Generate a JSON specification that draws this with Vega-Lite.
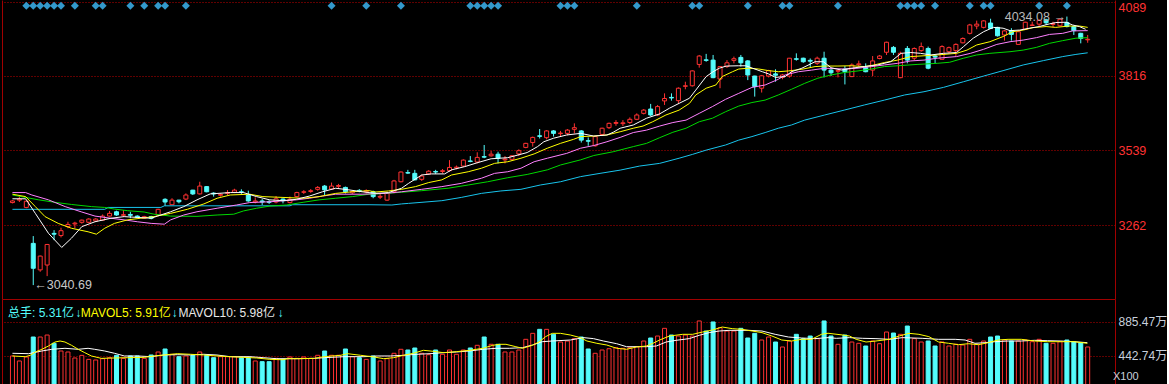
{
"$schema":"https://vega.github.io/schema/vega-lite/v6.json",
"background":"#000000",
"padding":{"left":2,"top":0,"right":0,"bottom":0},
"spacing":0,
"bounds":"flush",
"config":{"view":{"stroke":null},"font":"Liberation Sans, Noto Sans CJK SC, sans-serif",
"axisX":{"labels":false,"ticks":false,"grid":false,"domain":true,"domainColor":"#a00000","domainWidth":1,"title":null}},
"resolve":{"scale":{"stroke":"independent","color":"independent"}},
"datasets":{
"k":[
{"i":0,"o":3346,"h":3355,"l":3343,"c":3352,"v":439},
{"i":1,"o":3355,"h":3369,"l":3348,"c":3359,"v":374},
{"i":2,"o":3328,"h":3353,"l":3325,"c":3351,"v":426},
{"i":3,"o":3195,"h":3222,"l":3040.69,"c":3103,"v":686},
{"i":4,"o":3097,"h":3150,"l":3090,"c":3148,"v":686},
{"i":5,"o":3115,"h":3193,"l":3074,"c":3191,"v":712},
{"i":6,"o":3232,"h":3244,"l":3207,"c":3229,"v":604},
{"i":7,"o":3224,"h":3253,"l":3217,"c":3242,"v":504},
{"i":8,"o":3257,"h":3275,"l":3251,"c":3265,"v":491},
{"i":9,"o":3267,"h":3275,"l":3251,"c":3270,"v":413},
{"i":10,"o":3273,"h":3283,"l":3268,"c":3281,"v":447},
{"i":11,"o":3273,"h":3288,"l":3270,"c":3285,"v":395},
{"i":12,"o":3278,"h":3288,"l":3275,"c":3285,"v":387},
{"i":13,"o":3281,"h":3302,"l":3279,"c":3296,"v":404},
{"i":14,"o":3296,"h":3315,"l":3294,"c":3306,"v":417},
{"i":15,"o":3312,"h":3316,"l":3297,"c":3300,"v":447},
{"i":16,"o":3299,"h":3318,"l":3294,"c":3301,"v":408},
{"i":17,"o":3302,"h":3312,"l":3288,"c":3299,"v":439},
{"i":18,"o":3296,"h":3299,"l":3290,"c":3292,"v":439},
{"i":19,"o":3288,"h":3297,"l":3286,"c":3294,"v":408},
{"i":20,"o":3294,"h":3297,"l":3284,"c":3288,"v":452},
{"i":21,"o":3300,"h":3323,"l":3298,"c":3321,"v":491},
{"i":22,"o":3358,"h":3362,"l":3333,"c":3348,"v":530},
{"i":23,"o":3338,"h":3362,"l":3337,"c":3355,"v":460},
{"i":24,"o":3355,"h":3356,"l":3343,"c":3349,"v":430},
{"i":25,"o":3359,"h":3380,"l":3355,"c":3374,"v":439},
{"i":26,"o":3392,"h":3393,"l":3374,"c":3378,"v":447},
{"i":27,"o":3378,"h":3423,"l":3376,"c":3407,"v":491},
{"i":28,"o":3405,"h":3407,"l":3384,"c":3386,"v":447},
{"i":29,"o":3381,"h":3384,"l":3368,"c":3378,"v":417},
{"i":30,"o":3373,"h":3380,"l":3368,"c":3376,"v":430},
{"i":31,"o":3380,"h":3392,"l":3374,"c":3383,"v":430},
{"i":32,"o":3384,"h":3397,"l":3381,"c":3392,"v":430},
{"i":33,"o":3386,"h":3395,"l":3378,"c":3384,"v":417},
{"i":34,"o":3374,"h":3390,"l":3349,"c":3352,"v":417},
{"i":35,"o":3348,"h":3365,"l":3343,"c":3352,"v":374},
{"i":36,"o":3352,"h":3359,"l":3337,"c":3348,"v":365},
{"i":37,"o":3349,"h":3355,"l":3341,"c":3347,"v":365},
{"i":38,"o":3348,"h":3370,"l":3343,"c":3360,"v":408},
{"i":39,"o":3359,"h":3361,"l":3343,"c":3353,"v":395},
{"i":40,"o":3346,"h":3368,"l":3343,"c":3358,"v":426},
{"i":41,"o":3368,"h":3386,"l":3365,"c":3383,"v":408},
{"i":42,"o":3384,"h":3392,"l":3378,"c":3386,"v":426},
{"i":43,"o":3387,"h":3396,"l":3382,"c":3390,"v":408},
{"i":44,"o":3395,"h":3407,"l":3390,"c":3402,"v":448},
{"i":45,"o":3407,"h":3411,"l":3374,"c":3393,"v":504},
{"i":46,"o":3396,"h":3420,"l":3393,"c":3407,"v":448},
{"i":47,"o":3406,"h":3415,"l":3397,"c":3409,"v":448},
{"i":48,"o":3402,"h":3405,"l":3380,"c":3386,"v":530},
{"i":49,"o":3382,"h":3390,"l":3378,"c":3387,"v":430},
{"i":50,"o":3391,"h":3396,"l":3384,"c":3388,"v":417},
{"i":51,"o":3386,"h":3395,"l":3380,"c":3390,"v":395},
{"i":52,"o":3386,"h":3390,"l":3362,"c":3368,"v":439},
{"i":53,"o":3366,"h":3380,"l":3359,"c":3369,"v":374},
{"i":54,"o":3355,"h":3386,"l":3352,"c":3380,"v":404},
{"i":55,"o":3386,"h":3430,"l":3380,"c":3426,"v":474},
{"i":56,"o":3423,"h":3461,"l":3421,"c":3459,"v":526},
{"i":57,"o":3457,"h":3467,"l":3452,"c":3455,"v":517},
{"i":58,"o":3454,"h":3467,"l":3428,"c":3430,"v":543},
{"i":59,"o":3432,"h":3450,"l":3426,"c":3444,"v":474},
{"i":60,"o":3452,"h":3466,"l":3449,"c":3462,"v":456},
{"i":61,"o":3461,"h":3467,"l":3452,"c":3459,"v":517},
{"i":62,"o":3461,"h":3470,"l":3454,"c":3464,"v":461},
{"i":63,"o":3464,"h":3503,"l":3460,"c":3476,"v":517},
{"i":64,"o":3474,"h":3483,"l":3469,"c":3477,"v":461},
{"i":65,"o":3481,"h":3506,"l":3479,"c":3503,"v":517},
{"i":66,"o":3500,"h":3518,"l":3495,"c":3498,"v":543},
{"i":67,"o":3496,"h":3532,"l":3491,"c":3513,"v":578},
{"i":68,"o":3516,"h":3559,"l":3510,"c":3514,"v":686},
{"i":69,"o":3519,"h":3537,"l":3516,"c":3525,"v":591},
{"i":70,"o":3525,"h":3534,"l":3491,"c":3510,"v":591},
{"i":71,"o":3504,"h":3518,"l":3491,"c":3507,"v":491},
{"i":72,"o":3506,"h":3522,"l":3501,"c":3519,"v":491},
{"i":73,"o":3526,"h":3543,"l":3518,"c":3538,"v":517},
{"i":74,"o":3550,"h":3567,"l":3547,"c":3565,"v":656},
{"i":75,"o":3568,"h":3590,"l":3553,"c":3587,"v":734},
{"i":76,"o":3593,"h":3618,"l":3583,"c":3591,"v":786},
{"i":77,"o":3586,"h":3614,"l":3580,"c":3611,"v":786},
{"i":78,"o":3611,"h":3614,"l":3590,"c":3602,"v":721},
{"i":79,"o":3601,"h":3611,"l":3590,"c":3603,"v":621},
{"i":80,"o":3602,"h":3618,"l":3595,"c":3614,"v":634},
{"i":81,"o":3617,"h":3639,"l":3602,"c":3623,"v":665},
{"i":82,"o":3611,"h":3614,"l":3568,"c":3577,"v":686},
{"i":83,"o":3575,"h":3587,"l":3556,"c":3573,"v":530},
{"i":84,"o":3556,"h":3592,"l":3553,"c":3590,"v":474},
{"i":85,"o":3598,"h":3623,"l":3593,"c":3621,"v":517},
{"i":86,"o":3623,"h":3642,"l":3618,"c":3639,"v":534},
{"i":87,"o":3639,"h":3651,"l":3630,"c":3642,"v":547},
{"i":88,"o":3638,"h":3651,"l":3629,"c":3641,"v":539},
{"i":89,"o":3642,"h":3661,"l":3637,"c":3654,"v":547},
{"i":90,"o":3654,"h":3676,"l":3651,"c":3670,"v":560},
{"i":91,"o":3676,"h":3692,"l":3672,"c":3688,"v":634},
{"i":92,"o":3692,"h":3711,"l":3666,"c":3670,"v":673},
{"i":93,"o":3670,"h":3707,"l":3666,"c":3701,"v":699},
{"i":94,"o":3722,"h":3750,"l":3707,"c":3731,"v":799},
{"i":95,"o":3735,"h":3750,"l":3723,"c":3733,"v":712},
{"i":96,"o":3723,"h":3772,"l":3713,"c":3769,"v":699},
{"i":97,"o":3776,"h":3793,"l":3765,"c":3778,"v":712},
{"i":98,"o":3778,"h":3835,"l":3775,"c":3833,"v":699},
{"i":99,"o":3857,"h":3892,"l":3845,"c":3888,"v":895},
{"i":100,"o":3874,"h":3896,"l":3867,"c":3872,"v":764},
{"i":101,"o":3873,"h":3892,"l":3806,"c":3808,"v":882},
{"i":102,"o":3803,"h":3851,"l":3769,"c":3849,"v":808},
{"i":103,"o":3849,"h":3873,"l":3844,"c":3863,"v":764},
{"i":104,"o":3872,"h":3886,"l":3861,"c":3878,"v":764},
{"i":105,"o":3883,"h":3892,"l":3849,"c":3863,"v":799},
{"i":106,"o":3870,"h":3873,"l":3799,"c":3818,"v":673},
{"i":107,"o":3814,"h":3815,"l":3738,"c":3775,"v":734},
{"i":108,"o":3769,"h":3818,"l":3753,"c":3815,"v":647},
{"i":109,"o":3814,"h":3837,"l":3809,"c":3834,"v":686},
{"i":110,"o":3822,"h":3839,"l":3793,"c":3817,"v":621},
{"i":111,"o":3809,"h":3822,"l":3802,"c":3818,"v":556},
{"i":112,"o":3814,"h":3881,"l":3808,"c":3880,"v":634},
{"i":113,"o":3878,"h":3898,"l":3871,"c":3876,"v":721},
{"i":114,"o":3880,"h":3882,"l":3863,"c":3867,"v":665},
{"i":115,"o":3872,"h":3879,"l":3846,"c":3869,"v":699},
{"i":116,"o":3861,"h":3886,"l":3855,"c":3880,"v":665},
{"i":117,"o":3880,"h":3904,"l":3809,"c":3836,"v":895},
{"i":118,"o":3836,"h":3842,"l":3814,"c":3826,"v":699},
{"i":119,"o":3832,"h":3836,"l":3809,"c":3834,"v":591},
{"i":120,"o":3840,"h":3851,"l":3783,"c":3830,"v":712},
{"i":121,"o":3812,"h":3861,"l":3810,"c":3855,"v":621},
{"i":122,"o":3856,"h":3871,"l":3849,"c":3859,"v":604},
{"i":123,"o":3845,"h":3861,"l":3828,"c":3830,"v":569},
{"i":124,"o":3836,"h":3888,"l":3814,"c":3870,"v":634},
{"i":125,"o":3879,"h":3892,"l":3876,"c":3888,"v":599},
{"i":126,"o":3902,"h":3941,"l":3892,"c":3939,"v":751},
{"i":127,"o":3920,"h":3925,"l":3892,"c":3902,"v":738},
{"i":128,"o":3808,"h":3904,"l":3806,"c":3898,"v":721},
{"i":129,"o":3916,"h":3925,"l":3861,"c":3873,"v":829},
{"i":130,"o":3880,"h":3920,"l":3873,"c":3916,"v":665},
{"i":131,"o":3908,"h":3938,"l":3904,"c":3923,"v":621},
{"i":132,"o":3916,"h":3923,"l":3839,"c":3843,"v":634},
{"i":133,"o":3888,"h":3892,"l":3861,"c":3884,"v":569},
{"i":134,"o":3876,"h":3928,"l":3875,"c":3923,"v":621},
{"i":135,"o":3904,"h":3923,"l":3898,"c":3919,"v":569},
{"i":136,"o":3908,"h":3935,"l":3886,"c":3931,"v":591},
{"i":137,"o":3937,"h":3957,"l":3935,"c":3953,"v":582},
{"i":138,"o":3972,"h":4007,"l":3968,"c":4003,"v":656},
{"i":139,"o":3999,"h":4019,"l":3987,"c":4006,"v":591},
{"i":140,"o":3994,"h":4021,"l":3990,"c":4018,"v":634},
{"i":141,"o":4010,"h":4026,"l":3988,"c":3990,"v":686},
{"i":142,"o":3994,"h":3996,"l":3960,"c":3963,"v":699},
{"i":143,"o":3966,"h":3984,"l":3945,"c":3981,"v":647},
{"i":144,"o":3982,"h":3991,"l":3945,"c":3968,"v":634},
{"i":145,"o":3931,"h":3980,"l":3930,"c":3978,"v":634},
{"i":146,"o":3987,"h":4015,"l":3984,"c":4013,"v":647},
{"i":147,"o":4001,"h":4015,"l":3999,"c":4003,"v":625},
{"i":148,"o":4006,"h":4024,"l":3999,"c":4020,"v":656},
{"i":149,"o":4022,"h":4026,"l":4003,"c":4011,"v":604},
{"i":150,"o":4005,"h":4015,"l":3994,"c":4008,"v":604},
{"i":151,"o":4000,"h":4027,"l":3998,"c":4024,"v":625},
{"i":152,"o":4012,"h":4034.08,"l":3994,"c":3997,"v":647},
{"i":153,"o":3997,"h":3999,"l":3966,"c":3982,"v":621},
{"i":154,"o":3972,"h":3974,"l":3935,"c":3953,"v":612},
{"i":155,"o":3948,"h":3966,"l":3937,"c":3950,"v":556}
],
"sig":[
{"i":2,"p":4074},{"i":3,"p":4074},{"i":4,"p":4074},{"i":5,"p":4074},{"i":6,"p":4074},{"i":7,"p":4074},{"i":9,"p":4074},{"i":12,"p":4074},{"i":13,"p":4074},{"i":17,"p":4074},{"i":19,"p":4074},{"i":21,"p":4074},{"i":22,"p":4074},{"i":25,"p":4074},{"i":46,"p":4074},{"i":51,"p":4074},{"i":56,"p":4074},{"i":66,"p":4074},{"i":67,"p":4074},{"i":68,"p":4074},{"i":69,"p":4074},{"i":70,"p":4074},{"i":79,"p":4074},{"i":80,"p":4074},{"i":81,"p":4074},{"i":90,"p":4074},{"i":98,"p":4074},{"i":99,"p":4074},{"i":106,"p":4074},{"i":111,"p":4074},{"i":112,"p":4074},{"i":119,"p":4074},{"i":128,"p":4074},{"i":129,"p":4074},{"i":130,"p":4074},{"i":131,"p":4074},{"i":133,"p":4074},{"i":138,"p":4074},{"i":140,"p":4074},{"i":141,"p":4074},{"i":148,"p":4074},{"i":152,"p":4074}
],
"ma":[
{"m":"MA60","i":0,"p":3321},{"m":"MA60","i":13.3,"p":3321},{"m":"MA60","i":13.8,"p":3328},{"m":"MA60","i":21.4,"p":3328},{"m":"MA60","i":21.9,"p":3334},{"m":"MA60","i":40,"p":3334},{"m":"MA60","i":40.4,"p":3338},{"m":"MA60","i":51.4,"p":3338},{"m":"MA60","i":54.7,"p":3337},{"m":"MA60","i":56.1,"p":3341},{"m":"MA60","i":57.1,"p":3343},{"m":"MA60","i":61.9,"p":3353},{"m":"MA60","i":64.7,"p":3365},{"m":"MA60","i":67.6,"p":3380},{"m":"MA60","i":70.4,"p":3389},{"m":"MA60","i":73.3,"p":3395},{"m":"MA60","i":76.1,"p":3411},{"m":"MA60","i":79,"p":3423},{"m":"MA60","i":81.9,"p":3442},{"m":"MA60","i":84.7,"p":3454},{"m":"MA60","i":87.6,"p":3466},{"m":"MA60","i":90.4,"p":3481},{"m":"MA60","i":93.3,"p":3491},{"m":"MA60","i":96.1,"p":3510},{"m":"MA60","i":98,"p":3524},{"m":"MA60","i":100,"p":3540},{"m":"MA60","i":102.8,"p":3559},{"m":"MA60","i":104.7,"p":3577},{"m":"MA60","i":106.6,"p":3590},{"m":"MA60","i":108.5,"p":3605},{"m":"MA60","i":110.4,"p":3621},{"m":"MA60","i":112.3,"p":3633},{"m":"MA60","i":114.2,"p":3651},{"m":"MA60","i":117.1,"p":3670},{"m":"MA60","i":119.9,"p":3688},{"m":"MA60","i":122.8,"p":3707},{"m":"MA60","i":125.7,"p":3725},{"m":"MA60","i":128.6,"p":3744},{"m":"MA60","i":131.4,"p":3756},{"m":"MA60","i":134.2,"p":3772},{"m":"MA60","i":137.1,"p":3793},{"m":"MA60","i":140,"p":3814},{"m":"MA60","i":142.8,"p":3834},{"m":"MA60","i":145.7,"p":3855},{"m":"MA60","i":148.6,"p":3871},{"m":"MA60","i":151.4,"p":3886},{"m":"MA60","i":153.3,"p":3894},{"m":"MA60","i":155,"p":3900},
{"m":"MA30","i":0,"p":3374},{"m":"MA30","i":3.8,"p":3356},{"m":"MA30","i":6.1,"p":3347},{"m":"MA30","i":8.5,"p":3339},{"m":"MA30","i":11.4,"p":3331},{"m":"MA30","i":13.3,"p":3328},{"m":"MA30","i":14.7,"p":3322},{"m":"MA30","i":16.6,"p":3316},{"m":"MA30","i":19,"p":3311},{"m":"MA30","i":20.4,"p":3303},{"m":"MA30","i":22.8,"p":3296},{"m":"MA30","i":26.6,"p":3295},{"m":"MA30","i":29.5,"p":3300},{"m":"MA30","i":31.9,"p":3303},{"m":"MA30","i":33.3,"p":3315},{"m":"MA30","i":35.2,"p":3325},{"m":"MA30","i":37.1,"p":3333},{"m":"MA30","i":39.5,"p":3337},{"m":"MA30","i":41.9,"p":3347},{"m":"MA30","i":44.2,"p":3356},{"m":"MA30","i":46.6,"p":3362},{"m":"MA30","i":49,"p":3368},{"m":"MA30","i":51.4,"p":3377},{"m":"MA30","i":53.8,"p":3380},{"m":"MA30","i":56.1,"p":3384},{"m":"MA30","i":59,"p":3390},{"m":"MA30","i":62.8,"p":3399},{"m":"MA30","i":65.7,"p":3411},{"m":"MA30","i":68.5,"p":3423},{"m":"MA30","i":71.4,"p":3438},{"m":"MA30","i":74.2,"p":3450},{"m":"MA30","i":77.1,"p":3467},{"m":"MA30","i":79,"p":3485},{"m":"MA30","i":81.9,"p":3504},{"m":"MA30","i":83.8,"p":3520},{"m":"MA30","i":86.6,"p":3534},{"m":"MA30","i":89.5,"p":3553},{"m":"MA30","i":91.4,"p":3565},{"m":"MA30","i":93.3,"p":3586},{"m":"MA30","i":95.2,"p":3606},{"m":"MA30","i":97.1,"p":3621},{"m":"MA30","i":99,"p":3645},{"m":"MA30","i":100.9,"p":3658},{"m":"MA30","i":102.8,"p":3682},{"m":"MA30","i":104.7,"p":3703},{"m":"MA30","i":106.6,"p":3716},{"m":"MA30","i":108.5,"p":3725},{"m":"MA30","i":110.4,"p":3744},{"m":"MA30","i":112.3,"p":3765},{"m":"MA30","i":114.2,"p":3787},{"m":"MA30","i":116.1,"p":3806},{"m":"MA30","i":118,"p":3818},{"m":"MA30","i":119.9,"p":3827},{"m":"MA30","i":121.9,"p":3833},{"m":"MA30","i":123.8,"p":3840},{"m":"MA30","i":125.7,"p":3849},{"m":"MA30","i":127.6,"p":3852},{"m":"MA30","i":130.4,"p":3857},{"m":"MA30","i":133.3,"p":3861},{"m":"MA30","i":135.1,"p":3865},{"m":"MA30","i":137.1,"p":3880},{"m":"MA30","i":139,"p":3892},{"m":"MA30","i":140.9,"p":3898},{"m":"MA30","i":143.8,"p":3904},{"m":"MA30","i":145.7,"p":3910},{"m":"MA30","i":147.6,"p":3920},{"m":"MA30","i":149.5,"p":3935},{"m":"MA30","i":151.4,"p":3945},{"m":"MA30","i":153.3,"p":3954},{"m":"MA30","i":155,"p":3956},
{"m":"MA20","i":0,"p":3383},{"m":"MA20","i":1.9,"p":3383},{"m":"MA20","i":2.8,"p":3374},{"m":"MA20","i":5.2,"p":3356},{"m":"MA20","i":7.6,"p":3331},{"m":"MA20","i":10,"p":3311},{"m":"MA20","i":11.9,"p":3296},{"m":"MA20","i":14.2,"p":3288},{"m":"MA20","i":16.1,"p":3282},{"m":"MA20","i":18,"p":3275},{"m":"MA20","i":20,"p":3269},{"m":"MA20","i":21.9,"p":3266},{"m":"MA20","i":22.8,"p":3282},{"m":"MA20","i":24.7,"p":3300},{"m":"MA20","i":26.6,"p":3312},{"m":"MA20","i":29.5,"p":3325},{"m":"MA20","i":32.3,"p":3337},{"m":"MA20","i":34.2,"p":3346},{"m":"MA20","i":37.1,"p":3349},{"m":"MA20","i":40.9,"p":3356},{"m":"MA20","i":42.8,"p":3362},{"m":"MA20","i":44.7,"p":3370},{"m":"MA20","i":46.6,"p":3377},{"m":"MA20","i":50.4,"p":3377},{"m":"MA20","i":53.8,"p":3380},{"m":"MA20","i":56.1,"p":3386},{"m":"MA20","i":59,"p":3395},{"m":"MA20","i":61.9,"p":3405},{"m":"MA20","i":64.7,"p":3417},{"m":"MA20","i":67.6,"p":3436},{"m":"MA20","i":69.5,"p":3454},{"m":"MA20","i":71.4,"p":3460},{"m":"MA20","i":73.3,"p":3473},{"m":"MA20","i":75.2,"p":3497},{"m":"MA20","i":77.1,"p":3510},{"m":"MA20","i":79.9,"p":3528},{"m":"MA20","i":81.9,"p":3547},{"m":"MA20","i":83.8,"p":3557},{"m":"MA20","i":85.7,"p":3571},{"m":"MA20","i":87.6,"p":3587},{"m":"MA20","i":89.5,"p":3605},{"m":"MA20","i":91.4,"p":3614},{"m":"MA20","i":93.3,"p":3629},{"m":"MA20","i":95.2,"p":3642},{"m":"MA20","i":97.1,"p":3651},{"m":"MA20","i":99,"p":3676},{"m":"MA20","i":100.9,"p":3701},{"m":"MA20","i":102.8,"p":3728},{"m":"MA20","i":104.7,"p":3750},{"m":"MA20","i":106.6,"p":3772},{"m":"MA20","i":108.5,"p":3781},{"m":"MA20","i":110.4,"p":3802},{"m":"MA20","i":111.4,"p":3818},{"m":"MA20","i":113.3,"p":3830},{"m":"MA20","i":115.2,"p":3836},{"m":"MA20","i":117.1,"p":3843},{"m":"MA20","i":119.9,"p":3840},{"m":"MA20","i":121.9,"p":3843},{"m":"MA20","i":123.8,"p":3849},{"m":"MA20","i":125.7,"p":3855},{"m":"MA20","i":127.6,"p":3861},{"m":"MA20","i":129.5,"p":3870},{"m":"MA20","i":131.4,"p":3873},{"m":"MA20","i":133.3,"p":3880},{"m":"MA20","i":136.1,"p":3886},{"m":"MA20","i":138.1,"p":3898},{"m":"MA20","i":140,"p":3913},{"m":"MA20","i":141.9,"p":3931},{"m":"MA20","i":143.8,"p":3941},{"m":"MA20","i":145.7,"p":3947},{"m":"MA20","i":147.6,"p":3956},{"m":"MA20","i":149.5,"p":3968},{"m":"MA20","i":151.4,"p":3972},{"m":"MA20","i":152.8,"p":3981},{"m":"MA20","i":155,"p":3982},
{"m":"MA10","i":0,"p":3377},{"m":"MA10","i":1.9,"p":3368},{"m":"MA10","i":3.3,"p":3331},{"m":"MA10","i":4.7,"p":3294},{"m":"MA10","i":6.6,"p":3269},{"m":"MA10","i":8.5,"p":3251},{"m":"MA10","i":10.9,"p":3238},{"m":"MA10","i":12.1,"p":3229},{"m":"MA10","i":13.3,"p":3251},{"m":"MA10","i":14.7,"p":3269},{"m":"MA10","i":16.6,"p":3282},{"m":"MA10","i":18.5,"p":3288},{"m":"MA10","i":20.4,"p":3294},{"m":"MA10","i":22.8,"p":3306},{"m":"MA10","i":25.2,"p":3321},{"m":"MA10","i":27.6,"p":3341},{"m":"MA10","i":29.5,"p":3362},{"m":"MA10","i":31.4,"p":3374},{"m":"MA10","i":34.2,"p":3377},{"m":"MA10","i":36.1,"p":3368},{"m":"MA10","i":39,"p":3365},{"m":"MA10","i":41.9,"p":3362},{"m":"MA10","i":44.2,"p":3368},{"m":"MA10","i":46.6,"p":3380},{"m":"MA10","i":49,"p":3386},{"m":"MA10","i":51.4,"p":3390},{"m":"MA10","i":52.3,"p":3385},{"m":"MA10","i":54.2,"p":3389},{"m":"MA10","i":56.1,"p":3395},{"m":"MA10","i":58.1,"p":3405},{"m":"MA10","i":60,"p":3420},{"m":"MA10","i":61.9,"p":3430},{"m":"MA10","i":63.3,"p":3448},{"m":"MA10","i":65.7,"p":3460},{"m":"MA10","i":67.6,"p":3473},{"m":"MA10","i":69.5,"p":3491},{"m":"MA10","i":71.4,"p":3497},{"m":"MA10","i":73.3,"p":3510},{"m":"MA10","i":75.2,"p":3526},{"m":"MA10","i":77.1,"p":3547},{"m":"MA10","i":79,"p":3565},{"m":"MA10","i":80.9,"p":3580},{"m":"MA10","i":81.9,"p":3590},{"m":"MA10","i":83.8,"p":3592},{"m":"MA10","i":85.7,"p":3596},{"m":"MA10","i":87.6,"p":3608},{"m":"MA10","i":89.5,"p":3621},{"m":"MA10","i":90.9,"p":3629},{"m":"MA10","i":92.3,"p":3645},{"m":"MA10","i":94.2,"p":3670},{"m":"MA10","i":96.1,"p":3688},{"m":"MA10","i":97.6,"p":3713},{"m":"MA10","i":98.5,"p":3744},{"m":"MA10","i":100,"p":3769},{"m":"MA10","i":101.4,"p":3781},{"m":"MA10","i":102.3,"p":3812},{"m":"MA10","i":103.8,"p":3830},{"m":"MA10","i":104.7,"p":3840},{"m":"MA10","i":106.1,"p":3843},{"m":"MA10","i":107.6,"p":3840},{"m":"MA10","i":109,"p":3834},{"m":"MA10","i":110.4,"p":3830},{"m":"MA10","i":111.9,"p":3833},{"m":"MA10","i":113.8,"p":3839},{"m":"MA10","i":115.7,"p":3849},{"m":"MA10","i":117.1,"p":3851},{"m":"MA10","i":119,"p":3851},{"m":"MA10","i":120.9,"p":3852},{"m":"MA10","i":122.8,"p":3849},{"m":"MA10","i":124.2,"p":3855},{"m":"MA10","i":125.7,"p":3864},{"m":"MA10","i":127.6,"p":3873},{"m":"MA10","i":129.5,"p":3886},{"m":"MA10","i":131.4,"p":3889},{"m":"MA10","i":133.3,"p":3892},{"m":"MA10","i":136.1,"p":3898},{"m":"MA10","i":137.6,"p":3910},{"m":"MA10","i":139,"p":3929},{"m":"MA10","i":140.9,"p":3941},{"m":"MA10","i":142.8,"p":3960},{"m":"MA10","i":144.2,"p":3978},{"m":"MA10","i":145.7,"p":3984},{"m":"MA10","i":147.1,"p":3993},{"m":"MA10","i":149,"p":3997},{"m":"MA10","i":150.4,"p":3994},{"m":"MA10","i":152.3,"p":3999},{"m":"MA10","i":153.8,"p":3999},{"m":"MA10","i":155,"p":3994},
{"m":"MA5","i":0,"p":3360},{"m":"MA5","i":1.9,"p":3360},{"m":"MA5","i":3.3,"p":3306},{"m":"MA5","i":5.2,"p":3232},{"m":"MA5","i":7.1,"p":3180},{"m":"MA5","i":8.5,"p":3214},{"m":"MA5","i":10,"p":3257},{"m":"MA5","i":11.9,"p":3275},{"m":"MA5","i":14.2,"p":3288},{"m":"MA5","i":16.1,"p":3294},{"m":"MA5","i":18,"p":3291},{"m":"MA5","i":20,"p":3288},{"m":"MA5","i":20.9,"p":3296},{"m":"MA5","i":22.8,"p":3312},{"m":"MA5","i":24.7,"p":3331},{"m":"MA5","i":26.6,"p":3356},{"m":"MA5","i":28.5,"p":3378},{"m":"MA5","i":31.4,"p":3383},{"m":"MA5","i":33.3,"p":3383},{"m":"MA5","i":35.2,"p":3368},{"m":"MA5","i":37.1,"p":3356},{"m":"MA5","i":39,"p":3353},{"m":"MA5","i":40.9,"p":3358},{"m":"MA5","i":42.8,"p":3370},{"m":"MA5","i":44.7,"p":3386},{"m":"MA5","i":46.6,"p":3399},{"m":"MA5","i":48.5,"p":3393},{"m":"MA5","i":50.4,"p":3386},{"m":"MA5","i":52.3,"p":3380},{"m":"MA5","i":54.2,"p":3383},{"m":"MA5","i":56.1,"p":3399},{"m":"MA5","i":57.1,"p":3417},{"m":"MA5","i":59,"p":3448},{"m":"MA5","i":60.4,"p":3452},{"m":"MA5","i":62.3,"p":3452},{"m":"MA5","i":63.3,"p":3467},{"m":"MA5","i":65.2,"p":3479},{"m":"MA5","i":67.1,"p":3494},{"m":"MA5","i":69,"p":3508},{"m":"MA5","i":71.4,"p":3512},{"m":"MA5","i":72.3,"p":3518},{"m":"MA5","i":74.2,"p":3531},{"m":"MA5","i":75.7,"p":3553},{"m":"MA5","i":76.6,"p":3571},{"m":"MA5","i":78,"p":3584},{"m":"MA5","i":79.9,"p":3596},{"m":"MA5","i":81.9,"p":3602},{"m":"MA5","i":83.8,"p":3592},{"m":"MA5","i":85.7,"p":3596},{"m":"MA5","i":86.6,"p":3606},{"m":"MA5","i":87.6,"p":3621},{"m":"MA5","i":89.5,"p":3633},{"m":"MA5","i":91.4,"p":3658},{"m":"MA5","i":93.3,"p":3674},{"m":"MA5","i":94.7,"p":3695},{"m":"MA5","i":96.1,"p":3713},{"m":"MA5","i":97.6,"p":3732},{"m":"MA5","i":98.5,"p":3762},{"m":"MA5","i":100,"p":3812},{"m":"MA5","i":101,"p":3830},{"m":"MA5","i":101.9,"p":3843},{"m":"MA5","i":102.9,"p":3851},{"m":"MA5","i":104.7,"p":3852},{"m":"MA5","i":105.7,"p":3852},{"m":"MA5","i":106.7,"p":3843},{"m":"MA5","i":108.1,"p":3830},{"m":"MA5","i":109,"p":3822},{"m":"MA5","i":110,"p":3809},{"m":"MA5","i":111.4,"p":3812},{"m":"MA5","i":112.3,"p":3830},{"m":"MA5","i":113.8,"p":3843},{"m":"MA5","i":115.7,"p":3867},{"m":"MA5","i":116.9,"p":3867},{"m":"MA5","i":118,"p":3845},{"m":"MA5","i":119.5,"p":3836},{"m":"MA5","i":120.9,"p":3843},{"m":"MA5","i":122.8,"p":3849},{"m":"MA5","i":124.7,"p":3855},{"m":"MA5","i":126.6,"p":3867},{"m":"MA5","i":128.1,"p":3898},{"m":"MA5","i":129.5,"p":3901},{"m":"MA5","i":130.9,"p":3898},{"m":"MA5","i":132.4,"p":3892},{"m":"MA5","i":134.2,"p":3898},{"m":"MA5","i":136.1,"p":3901},{"m":"MA5","i":137.1,"p":3923},{"m":"MA5","i":138.5,"p":3954},{"m":"MA5","i":140,"p":3978},{"m":"MA5","i":141.4,"p":3994},{"m":"MA5","i":142.8,"p":3991},{"m":"MA5","i":143.8,"p":3982},{"m":"MA5","i":145.2,"p":3984},{"m":"MA5","i":146.6,"p":3991},{"m":"MA5","i":148,"p":3997},{"m":"MA5","i":149.5,"p":4007},{"m":"MA5","i":150.4,"p":4012},{"m":"MA5","i":151.9,"p":4013},{"m":"MA5","i":152.8,"p":4003},{"m":"MA5","i":153.8,"p":3997},{"m":"MA5","i":154.7,"p":3987}
],
"vma":[
{"m":"MAVOL10","i":0,"v":474},{"m":"MAVOL10","i":2.33,"v":469},{"m":"MAVOL10","i":4.24,"v":504},{"m":"MAVOL10","i":5.67,"v":526},{"m":"MAVOL10","i":7.57,"v":539},{"m":"MAVOL10","i":9.48,"v":526},{"m":"MAVOL10","i":10.9,"v":539},{"m":"MAVOL10","i":11.86,"v":526},{"m":"MAVOL10","i":13.29,"v":504},{"m":"MAVOL10","i":14.71,"v":474},{"m":"MAVOL10","i":16.14,"v":439},{"m":"MAVOL10","i":18.05,"v":439},{"m":"MAVOL10","i":19.95,"v":430},{"m":"MAVOL10","i":21.86,"v":452},{"m":"MAVOL10","i":23.76,"v":456},{"m":"MAVOL10","i":25.67,"v":452},{"m":"MAVOL10","i":27.57,"v":461},{"m":"MAVOL10","i":29.48,"v":452},{"m":"MAVOL10","i":31.38,"v":430},{"m":"MAVOL10","i":34.24,"v":430},{"m":"MAVOL10","i":36.14,"v":417},{"m":"MAVOL10","i":38.05,"v":404},{"m":"MAVOL10","i":41.14,"v":404},{"m":"MAVOL10","i":43.52,"v":408},{"m":"MAVOL10","i":44.95,"v":417},{"m":"MAVOL10","i":47.81,"v":430},{"m":"MAVOL10","i":50.67,"v":430},{"m":"MAVOL10","i":52.57,"v":439},{"m":"MAVOL10","i":54.48,"v":439},{"m":"MAVOL10","i":56.38,"v":448},{"m":"MAVOL10","i":58.29,"v":461},{"m":"MAVOL10","i":60.19,"v":469},{"m":"MAVOL10","i":62.1,"v":482},{"m":"MAVOL10","i":64,"v":491},{"m":"MAVOL10","i":65.9,"v":504},{"m":"MAVOL10","i":67.81,"v":526},{"m":"MAVOL10","i":69.71,"v":539},{"m":"MAVOL10","i":71.62,"v":539},{"m":"MAVOL10","i":73.52,"v":547},{"m":"MAVOL10","i":74.95,"v":582},{"m":"MAVOL10","i":76.38,"v":625},{"m":"MAVOL10","i":77.81,"v":634},{"m":"MAVOL10","i":80.43,"v":647},{"m":"MAVOL10","i":82.33,"v":678},{"m":"MAVOL10","i":83.76,"v":665},{"m":"MAVOL10","i":85.19,"v":634},{"m":"MAVOL10","i":87.1,"v":599},{"m":"MAVOL10","i":88.52,"v":560},{"m":"MAVOL10","i":91.38,"v":560},{"m":"MAVOL10","i":92.81,"v":569},{"m":"MAVOL10","i":94.24,"v":621},{"m":"MAVOL10","i":95.67,"v":643},{"m":"MAVOL10","i":97.57,"v":665},{"m":"MAVOL10","i":99,"v":708},{"m":"MAVOL10","i":100.43,"v":743},{"m":"MAVOL10","i":101.86,"v":764},{"m":"MAVOL10","i":103.29,"v":773},{"m":"MAVOL10","i":106.14,"v":773},{"m":"MAVOL10","i":108.05,"v":764},{"m":"MAVOL10","i":109.95,"v":721},{"m":"MAVOL10","i":111.86,"v":686},{"m":"MAVOL10","i":113.76,"v":673},{"m":"MAVOL10","i":115.67,"v":665},{"m":"MAVOL10","i":117.57,"v":678},{"m":"MAVOL10","i":118.76,"v":669},{"m":"MAVOL10","i":120.67,"v":678},{"m":"MAVOL10","i":122.57,"v":669},{"m":"MAVOL10","i":124.48,"v":665},{"m":"MAVOL10","i":126.38,"v":656},{"m":"MAVOL10","i":128.29,"v":678},{"m":"MAVOL10","i":131.14,"v":669},{"m":"MAVOL10","i":133.52,"v":656},{"m":"MAVOL10","i":135.9,"v":656},{"m":"MAVOL10","i":137.33,"v":647},{"m":"MAVOL10","i":138.76,"v":604},{"m":"MAVOL10","i":140.19,"v":612},{"m":"MAVOL10","i":141.62,"v":625},{"m":"MAVOL10","i":143.52,"v":634},{"m":"MAVOL10","i":145.43,"v":634},{"m":"MAVOL10","i":147.33,"v":643},{"m":"MAVOL10","i":149.24,"v":638},{"m":"MAVOL10","i":151.14,"v":634},{"m":"MAVOL10","i":153.05,"v":625},{"m":"MAVOL10","i":154.95,"v":612},
{"m":"MAVOL5","i":0,"v":439},{"m":"MAVOL5","i":1.86,"v":430},{"m":"MAVOL5","i":2.57,"v":448},{"m":"MAVOL5","i":3.29,"v":491},{"m":"MAVOL5","i":4.24,"v":526},{"m":"MAVOL5","i":5.19,"v":569},{"m":"MAVOL5","i":6.14,"v":621},{"m":"MAVOL5","i":6.86,"v":634},{"m":"MAVOL5","i":7.57,"v":621},{"m":"MAVOL5","i":8.52,"v":578},{"m":"MAVOL5","i":9.48,"v":526},{"m":"MAVOL5","i":10.43,"v":482},{"m":"MAVOL5","i":11.38,"v":439},{"m":"MAVOL5","i":12.81,"v":408},{"m":"MAVOL5","i":14.71,"v":413},{"m":"MAVOL5","i":16.62,"v":417},{"m":"MAVOL5","i":19,"v":421},{"m":"MAVOL5","i":20.43,"v":439},{"m":"MAVOL5","i":21.86,"v":452},{"m":"MAVOL5","i":23.76,"v":469},{"m":"MAVOL5","i":25.67,"v":461},{"m":"MAVOL5","i":27.57,"v":452},{"m":"MAVOL5","i":29.48,"v":439},{"m":"MAVOL5","i":31.38,"v":430},{"m":"MAVOL5","i":33.29,"v":421},{"m":"MAVOL5","i":35.19,"v":413},{"m":"MAVOL5","i":37.1,"v":395},{"m":"MAVOL5","i":39,"v":390},{"m":"MAVOL5","i":39.71,"v":404},{"m":"MAVOL5","i":41.14,"v":404},{"m":"MAVOL5","i":43.52,"v":408},{"m":"MAVOL5","i":44.95,"v":430},{"m":"MAVOL5","i":47.33,"v":448},{"m":"MAVOL5","i":48.29,"v":469},{"m":"MAVOL5","i":50.19,"v":448},{"m":"MAVOL5","i":52.1,"v":426},{"m":"MAVOL5","i":53.52,"v":404},{"m":"MAVOL5","i":54.95,"v":417},{"m":"MAVOL5","i":56.38,"v":448},{"m":"MAVOL5","i":57.81,"v":474},{"m":"MAVOL5","i":59.24,"v":513},{"m":"MAVOL5","i":60.67,"v":500},{"m":"MAVOL5","i":62.1,"v":482},{"m":"MAVOL5","i":64,"v":495},{"m":"MAVOL5","i":65.9,"v":513},{"m":"MAVOL5","i":67.81,"v":539},{"m":"MAVOL5","i":69.24,"v":578},{"m":"MAVOL5","i":70.19,"v":591},{"m":"MAVOL5","i":71.14,"v":591},{"m":"MAVOL5","i":72.57,"v":560},{"m":"MAVOL5","i":73.52,"v":539},{"m":"MAVOL5","i":74.95,"v":578},{"m":"MAVOL5","i":75.9,"v":621},{"m":"MAVOL5","i":76.86,"v":691},{"m":"MAVOL5","i":77.81,"v":734},{"m":"MAVOL5","i":79,"v":734},{"m":"MAVOL5","i":80.43,"v":712},{"m":"MAVOL5","i":81.86,"v":678},{"m":"MAVOL5","i":82.81,"v":634},{"m":"MAVOL5","i":84.24,"v":604},{"m":"MAVOL5","i":85.67,"v":582},{"m":"MAVOL5","i":87.1,"v":539},{"m":"MAVOL5","i":88.52,"v":526},{"m":"MAVOL5","i":89.95,"v":556},{"m":"MAVOL5","i":91.38,"v":569},{"m":"MAVOL5","i":92.33,"v":604},{"m":"MAVOL5","i":93.29,"v":647},{"m":"MAVOL5","i":94.71,"v":699},{"m":"MAVOL5","i":96.62,"v":721},{"m":"MAVOL5","i":98.05,"v":721},{"m":"MAVOL5","i":99.48,"v":751},{"m":"MAVOL5","i":100.9,"v":777},{"m":"MAVOL5","i":102.33,"v":816},{"m":"MAVOL5","i":103.76,"v":795},{"m":"MAVOL5","i":105.19,"v":786},{"m":"MAVOL5","i":106.62,"v":764},{"m":"MAVOL5","i":108.05,"v":743},{"m":"MAVOL5","i":109.48,"v":699},{"m":"MAVOL5","i":110.9,"v":647},{"m":"MAVOL5","i":112.33,"v":634},{"m":"MAVOL5","i":113.76,"v":656},{"m":"MAVOL5","i":115.19,"v":656},{"m":"MAVOL5","i":116.62,"v":721},{"m":"MAVOL5","i":117.57,"v":735},{"m":"MAVOL5","i":119.71,"v":712},{"m":"MAVOL5","i":120.67,"v":699},{"m":"MAVOL5","i":121.62,"v":656},{"m":"MAVOL5","i":123.05,"v":621},{"m":"MAVOL5","i":124.48,"v":634},{"m":"MAVOL5","i":126.38,"v":656},{"m":"MAVOL5","i":127.81,"v":699},{"m":"MAVOL5","i":129.24,"v":734},{"m":"MAVOL5","i":130.67,"v":721},{"m":"MAVOL5","i":132.1,"v":691},{"m":"MAVOL5","i":133.52,"v":621},{"m":"MAVOL5","i":134.95,"v":604},{"m":"MAVOL5","i":136.38,"v":586},{"m":"MAVOL5","i":137.81,"v":599},{"m":"MAVOL5","i":139.24,"v":586},{"m":"MAVOL5","i":140.67,"v":612},{"m":"MAVOL5","i":142.1,"v":647},{"m":"MAVOL5","i":143.52,"v":656},{"m":"MAVOL5","i":145.43,"v":656},{"m":"MAVOL5","i":147.33,"v":634},{"m":"MAVOL5","i":149.24,"v":625},{"m":"MAVOL5","i":151.14,"v":625},{"m":"MAVOL5","i":153.05,"v":625},{"m":"MAVOL5","i":154.95,"v":604}
],
"hdr":[
{"k":"总手","i":-0.64,"v":1000,"t":"总手: 5.31亿"},
{"k":"箭头","i":9.07,"v":1000,"t":"↓"},
{"k":"MAVOL5","i":9.86,"v":1000,"t":"MAVOL5: 5.91亿"},
{"k":"箭头","i":22.93,"v":1000,"t":"↓"},
{"k":"MAVOL10","i":23.93,"v":1000,"t":"MAVOL10: 5.98亿"},
{"k":"箭头","i":38.21,"v":1000,"t":"↓"}
],
"unit":[
{"i":158.64,"v":165,"t":"X100"}
]
},
"vconcat":[
{
"width":1113,"height":299,
"resolve":{"axis":{"y":"independent"}},
"layer":[
{"data":{"name":"k"},"mark":{"type":"rule","strokeWidth":1},
"encoding":{
"x":{"field":"i","type":"quantitative","scale":{"domain":[-0.7857,158.2143],"nice":false,"zero":false}},
"y":{"field":"l","type":"quantitative","scale":{"domain":[2989.3,4095.3],"nice":false,"zero":false},
"axis":{"orient":"right","values":[3262,3539,3816,4089],"format":"d","grid":true,"gridColor":"#c00000","gridDash":[1,2],"gridWidth":1,"ticks":false,"domain":true,"domainColor":"#a00000","labelColor":"#ff3232","labelFontSize":12.5,"labelPadding":3,"labelFlush":false,"labelBaseline":{"condition":{"test":"datum.value > 4000","value":"top"},"value":"middle"},"title":null}},
"y2":{"field":"h"},
"stroke":{"condition":{"test":"datum.c >= datum.o","value":"#ff3232"},"value":"#54fcfc"}}},
{"data":{"name":"k"},"mark":{"type":"bar","width":4,"strokeWidth":1},
"encoding":{
"x":{"field":"i","type":"quantitative","scale":{"domain":[-0.7857,158.2143],"nice":false,"zero":false}},
"y":{"field":"o","type":"quantitative","scale":{"domain":[2989.3,4095.3],"nice":false,"zero":false},
"axis":{"orient":"left","labels":false,"ticks":false,"grid":false,"domain":true,"domainColor":"#a00000","title":null}},
"y2":{"field":"c"},
"fill":{"condition":{"test":"datum.c >= datum.o","value":"#000000"},"value":"#54fcfc"},
"stroke":{"condition":{"test":"datum.c >= datum.o","value":"#ff3232"},"value":"#54fcfc"}}},
{"data":{"name":"ma"},"mark":{"type":"line","strokeWidth":1},
"encoding":{
"x":{"field":"i","type":"quantitative","scale":{"domain":[-0.7857,158.2143],"nice":false,"zero":false}},
"y":{"field":"p","type":"quantitative","scale":{"domain":[2989.3,4095.3],"nice":false,"zero":false},"axis":null},
"stroke":{"field":"m","type":"nominal","scale":{"domain":["MA60","MA30","MA20","MA10","MA5"],"range":["#18c4ec","#00d800","#ff80ff","#ffff00","#ffffff"]},"legend":null}}},
{"data":{"name":"sig"},"mark":{"type":"point","shape":"diamond","filled":true,"size":64,"color":"#3399cc","opacity":1},
"encoding":{
"x":{"field":"i","type":"quantitative","scale":{"domain":[-0.7857,158.2143],"nice":false,"zero":false}},
"y":{"field":"p","type":"quantitative","scale":{"domain":[2989.3,4095.3],"nice":false,"zero":false},"axis":null}}},
{"data":{"values":[{"i":3,"p":3040.69,"t":"←3040.69"}]},"mark":{"type":"text","align":"left","baseline":"middle","dx":1,"fontSize":12.5,"color":"#c8c8c8"},
"encoding":{
"x":{"field":"i","type":"quantitative","scale":{"domain":[-0.7857,158.2143],"nice":false,"zero":false}},
"y":{"field":"p","type":"quantitative","scale":{"domain":[2989.3,4095.3],"nice":false,"zero":false},"axis":null},
"text":{"field":"t"}}},
{"data":{"values":[{"i":152,"p":4034.08,"t":"4034.08 →"}]},"mark":{"type":"text","align":"right","baseline":"middle","dx":-1,"fontSize":12.5,"color":"#b8b8b8"},
"encoding":{
"x":{"field":"i","type":"quantitative","scale":{"domain":[-0.7857,158.2143],"nice":false,"zero":false}},
"y":{"field":"p","type":"quantitative","scale":{"domain":[2989.3,4095.3],"nice":false,"zero":false},"axis":null},
"text":{"field":"t"}}}
]
},
{
"width":1113,"height":85,
"resolve":{"axis":{"y":"independent"}},
"layer":[
{"data":{"name":"k"},"mark":{"type":"bar","width":4,"strokeWidth":1,"clip":true},
"encoding":{
"x":{"field":"i","type":"quantitative","scale":{"domain":[-0.7857,158.2143],"nice":false,"zero":false}},
"y":{"field":"v","type":"quantitative","scale":{"domain":[74.2,1181],"nice":false,"zero":false},
"axis":{"orient":"left","labels":false,"ticks":false,"grid":false,"domain":true,"domainColor":"#a00000","title":null}},
"y2":{"datum":0},
"fill":{"condition":{"test":"datum.c >= datum.o","value":"#000000"},"value":"#54fcfc"},
"stroke":{"condition":{"test":"datum.c >= datum.o","value":"#ff3232"},"value":"#54fcfc"}}},
{"data":{"name":"vma"},"mark":{"type":"line","strokeWidth":1},
"encoding":{
"x":{"field":"i","type":"quantitative","scale":{"domain":[-0.7857,158.2143],"nice":false,"zero":false}},
"y":{"field":"v","type":"quantitative","scale":{"domain":[74.2,1181],"nice":false,"zero":false},
"axis":{"orient":"right","values":[442.74,885.47],"labelExpr":"format(datum.value, '.2f') + '万'","grid":true,"gridColor":"#c00000","gridDash":[1,2],"gridWidth":1,"ticks":false,"domain":true,"domainColor":"#a00000","labelColor":"#c8d0dc","labelFontSize":12,"labelPadding":3,"labelFlush":false,"title":null}},
"stroke":{"field":"m","type":"nominal","scale":{"domain":["MAVOL10","MAVOL5"],"range":["#ffffff","#ffff00"]},"legend":null}}},
{"data":{"name":"hdr"},"mark":{"type":"text","align":"left","baseline":"middle","fontSize":12},
"encoding":{
"x":{"field":"i","type":"quantitative","scale":{"domain":[-0.7857,158.2143],"nice":false,"zero":false}},
"y":{"field":"v","type":"quantitative","scale":{"domain":[74.2,1181],"nice":false,"zero":false},"axis":null},
"text":{"field":"t"},
"color":{"field":"k","type":"nominal","scale":{"domain":["总手","箭头","MAVOL5","MAVOL10"],"range":["#54fcfc","#54fcfc","#ffff00","#e8e8e8"]},"legend":null}}},
{"data":{"name":"unit"},"mark":{"type":"text","align":"left","baseline":"middle","fontSize":11,"color":"#c8d0dc"},
"encoding":{
"x":{"field":"i","type":"quantitative","scale":{"domain":[-0.7857,158.2143],"nice":false,"zero":false}},
"y":{"field":"v","type":"quantitative","scale":{"domain":[74.2,1181],"nice":false,"zero":false},"axis":null},
"text":{"field":"t"}}}
]
}
]
}
